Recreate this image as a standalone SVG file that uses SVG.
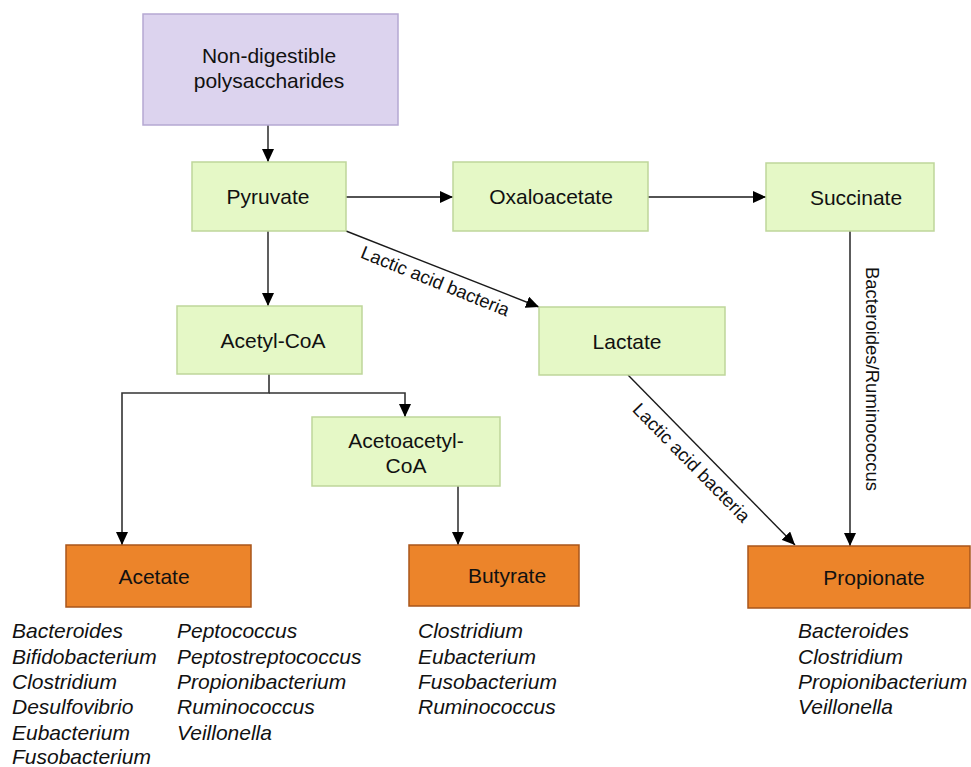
<svg xmlns="http://www.w3.org/2000/svg" width="971" height="767" viewBox="0 0 971 767">
<style>
.lbl{font-family:"Liberation Sans",Arial,Helvetica,sans-serif;font-size:21px;fill:#111;text-anchor:middle}
.sp{font-family:"Liberation Sans",Arial,Helvetica,sans-serif;font-size:21px;font-style:italic;fill:#111}
.cl{font-family:"Liberation Sans",Arial,Helvetica,sans-serif;font-size:18.5px;fill:#111;text-anchor:middle}
.purple{fill:#DCD3EE;stroke:#B5A8D2;stroke-width:1.5}
.green{fill:#E5F8C6;stroke:#BED69A;stroke-width:1.5}
.orange{fill:#EC842A;stroke:#A9561B;stroke-width:1.5}
.c{fill:none;stroke:#1a1a1a;stroke-width:1.4}
.c2{fill:none;stroke:#333;stroke-width:1.6}
</style>
<defs>
<marker id="ah" markerUnits="userSpaceOnUse" markerWidth="14" markerHeight="12" refX="13" refY="6" orient="auto">
<path d="M0,0 L13,6 L0,12 z" fill="#000"/>
</marker>
</defs>
<g id="connectors">
<line class="c" x1="268" y1="125" x2="268" y2="162" marker-end="url(#ah)"/>
<line class="c" x1="346" y1="197" x2="453" y2="197" marker-end="url(#ah)"/>
<line class="c" x1="648" y1="197" x2="766" y2="197" marker-end="url(#ah)"/>
<line class="c" x1="268" y1="231" x2="268" y2="306" marker-end="url(#ah)"/>
<line class="c" x1="346" y1="231" x2="539" y2="307" marker-end="url(#ah)"/>
<text class="cl" transform="translate(433,287) rotate(22)">Lactic acid bacteria</text>
<polyline class="c2" points="269,374 269,393 122,393 122,545" marker-end="url(#ah)"/>
<polyline class="c2" points="269,393 405,393 405,417" marker-end="url(#ah)"/>
<line class="c" x1="458" y1="486" x2="458" y2="545" marker-end="url(#ah)"/>
<line class="c" x1="628" y1="375" x2="795" y2="545" marker-end="url(#ah)"/>
<text class="cl" transform="translate(687,467) rotate(45.5)">Lactic acid bacteria</text>
<line class="c2" x1="850" y1="231" x2="850" y2="546" marker-end="url(#ah)"/>
<text class="cl" transform="translate(866,379) rotate(90)">Bacteroides/Ruminococcus</text>
</g>
<g id="polysaccharides">
<rect class="purple" x="143" y="14" width="255" height="111"/>
<text class="lbl" x="269" y="63">Non-digestible</text>
<text class="lbl" x="269" y="88">polysaccharides</text>
</g>
<g id="pyruvate">
<rect class="green" x="192" y="162" width="154" height="69"/>
<text class="lbl" x="268" y="204">Pyruvate</text>
</g>
<g id="oxaloacetate">
<rect class="green" x="453" y="162" width="195" height="69"/>
<text class="lbl" x="551" y="204">Oxaloacetate</text>
</g>
<g id="succinate">
<rect class="green" x="766" y="163" width="168" height="68"/>
<text class="lbl" x="856" y="204.5">Succinate</text>
</g>
<g id="acetylcoa">
<rect class="green" x="177" y="306" width="185" height="68"/>
<text class="lbl" x="273" y="347.5">Acetyl-CoA</text>
</g>
<g id="lactate">
<rect class="green" x="539" y="307" width="186" height="68"/>
<text class="lbl" x="627" y="348.5">Lactate</text>
</g>
<g id="acetoacetylcoa">
<rect class="green" x="312" y="417" width="188" height="69"/>
<text class="lbl" x="406" y="448">Acetoacetyl-</text>
<text class="lbl" x="406" y="473">CoA</text>
</g>
<g id="acetate">
<rect class="orange" x="66" y="545" width="185" height="62"/>
<text class="lbl" x="154" y="583.5">Acetate</text>
</g>
<g id="butyrate">
<rect class="orange" x="409" y="545" width="170" height="61"/>
<text class="lbl" x="507" y="583">Butyrate</text>
</g>
<g id="propionate">
<rect class="orange" x="748" y="546" width="222" height="62"/>
<text class="lbl" x="874" y="584.5">Propionate</text>
</g>
<g id="acetate-species">
<text class="sp" x="12" y="638">Bacteroides</text>
<text class="sp" x="12" y="663.5">Bifidobacterium</text>
<text class="sp" x="12" y="689">Clostridium</text>
<text class="sp" x="12" y="714">Desulfovibrio</text>
<text class="sp" x="12" y="739.5">Eubacterium</text>
<text class="sp" x="12" y="764">Fusobacterium</text>
<text class="sp" x="177" y="638">Peptococcus</text>
<text class="sp" x="177" y="663.5">Peptostreptococcus</text>
<text class="sp" x="177" y="689">Propionibacterium</text>
<text class="sp" x="177" y="714">Ruminococcus</text>
<text class="sp" x="177" y="739.5">Veillonella</text>
</g>
<g id="butyrate-species">
<text class="sp" x="418" y="638">Clostridium</text>
<text class="sp" x="418" y="663.5">Eubacterium</text>
<text class="sp" x="418" y="689">Fusobacterium</text>
<text class="sp" x="418" y="714">Ruminococcus</text>
</g>
<g id="propionate-species">
<text class="sp" x="798" y="638">Bacteroides</text>
<text class="sp" x="798" y="663.5">Clostridium</text>
<text class="sp" x="798" y="689">Propionibacterium</text>
<text class="sp" x="798" y="714">Veillonella</text>
</g>
</svg>
